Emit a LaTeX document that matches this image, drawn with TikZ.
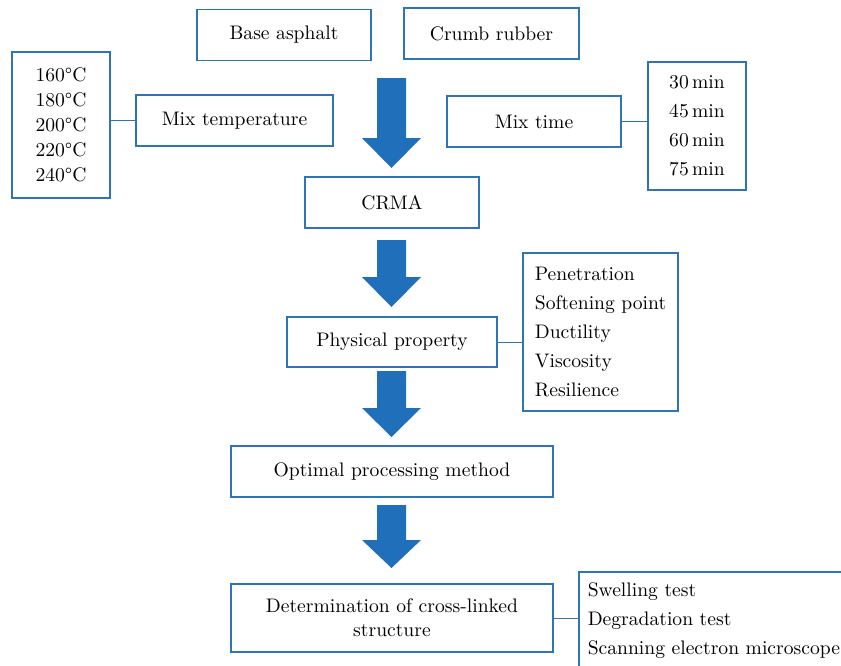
\documentclass[tikz,border=0pt]{standalone}
\usepackage{tikz}
\usetikzlibrary{positioning}
\usepackage{xcolor}
\definecolor{boxblue}{RGB}{46,117,182}
\definecolor{arrblue}{RGB}{32,111,186}

% block arrow: top of shaft, start of head, tip (x fixed at the centre line)
\newcommand{\blockarrow}[3]{%
  \fill[arrblue] (377,#1) -- (406,#1) -- (406,#2) -- (421,#2) -- (391.5,#3)
    -- (362,#2) -- (377,#2) -- cycle;}

\begin{document}
\begin{tikzpicture}[x=0.5pt, y=-0.5pt,
  box/.style={draw=boxblue, line width=0.75pt, fill=white, align=center, inner sep=0pt,
    font=\fontsize{9.8}{12}\selectfont},
  listbox/.style={box, font=\fontsize{9.8}{14.5}\selectfont},
  link/.style={draw=boxblue, line width=0.5pt}
]
  \useasboundingbox (0,0) rectangle (841,665);
  \clip (0,0) rectangle (841,665);

  \node[box, minimum width=87pt, minimum height=25.5pt] (base) at (284,35) {Base asphalt};
  \node[box, minimum width=87.5pt, minimum height=25.5pt] (crumb) at (491.5,33.5) {Crumb rubber};
  \node[box, minimum width=49pt, minimum height=73pt, font=\fontsize{9.8}{12.5}\selectfont] (temps) at (61,125)
    {160\textdegree C\\180\textdegree C\\200\textdegree C\\220\textdegree C\\240\textdegree C};
  \node[box, minimum width=98.5pt, minimum height=25.5pt] (mixtemp) at (234.5,120.5) {Mix temperature};
  \node[box, minimum width=87pt, minimum height=25.5pt] (mixtime) at (534,121.5) {Mix time};
  \node[listbox, minimum width=49pt, minimum height=64pt] (times) at (697,126)
    {30\,min\\45\,min\\60\,min\\75\,min};
  \node[box, minimum width=87pt, minimum height=25.5pt] (crma) at (392,202.5) {CRMA};
  \node[box, minimum width=105pt, minimum height=25pt] (phys) at (392,342) {Physical property};
  \node[listbox, align=left, minimum width=77.5pt, minimum height=79pt] (props) at (600.5,332)
    {Penetration\\Softening point\\Ductility\\Viscosity\\Resilience};
  \node[box, minimum width=161pt, minimum height=25.5pt] (optimal) at (392,471.5) {Optimal processing method};
  \node[box, minimum width=161pt, minimum height=34pt] (determ) at (392,618)
    {Determination of cross-linked\\structure};
  \node[listbox, anchor=north west, align=left, text width=170pt, inner xsep=4.5pt, inner ysep=5.5pt] (tests) at (578,571)
    {Swelling test\\Degradation test\\Scanning electron microscope};

  % side links
  \draw[link] (mixtemp.west) -- (mixtemp.west -| temps.east);
  \draw[link] (mixtime.east) -- (mixtime.east -| times.west);
  \draw[link] (phys.east) -- (phys.east -| props.west);
  \draw[link] (determ.east) -- (determ.east -| tests.west);

  % main flow
  \blockarrow{78}{138}{168}
  \blockarrow{240}{277}{307}
  \blockarrow{371}{408}{437}
  \blockarrow{505}{540}{568}
\end{tikzpicture}
\end{document}
